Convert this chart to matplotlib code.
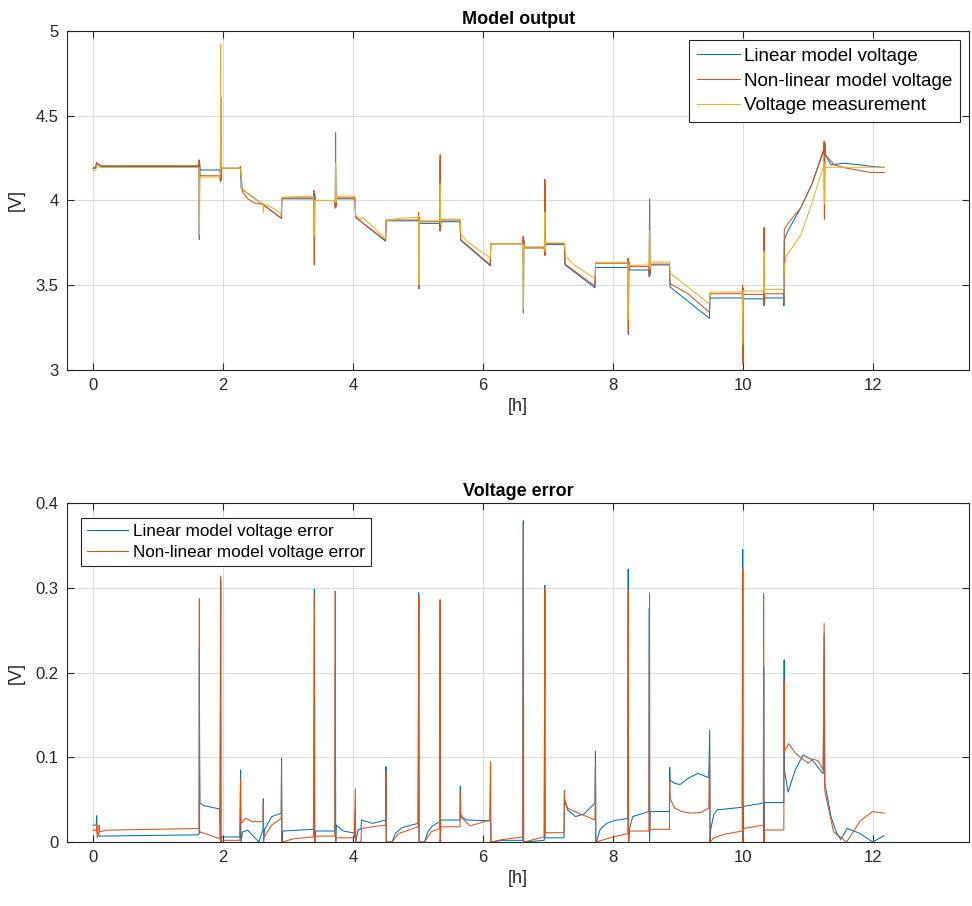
import matplotlib
matplotlib.use('Agg')
from matplotlib import pyplot as plt

plt.rcParams['font.family'] = ['Liberation Sans', 'DejaVu Sans']

# colours (matlab default order)
c_lin = '#0072BD'
c_nl = '#D95319'
c_meas = '#EDB120'

#####################################
# data, time in [h]

lin_t = [0.00, 0.04, 0.057, 0.10, 0.15, 1.62, 1.632, 1.636, 1.640, 1.646, 1.95, 1.960, 1.964, 1.968, 1.975,
         2.26, 2.268, 2.28, 2.90, 2.905, 3.39, 3.400, 3.405, 3.410, 3.418, 3.72, 3.727, 3.731, 3.736, 3.742,
         4.03, 4.04, 4.50, 4.508, 5.00, 5.010, 5.015, 5.020, 5.026, 5.33, 5.336, 5.340, 5.344, 5.350,
         5.645, 5.655, 6.11, 6.118, 6.61, 6.616, 6.620, 6.625, 6.632, 6.94, 6.946, 6.950, 6.955, 6.962,
         7.25, 7.26, 7.72, 7.73, 8.22, 8.228, 8.234, 8.240, 8.248, 8.55, 8.556, 8.560, 8.565, 8.572,
         8.865, 8.875, 9.48, 9.49, 9.985, 9.990, 9.995, 10.000, 10.008, 10.31, 10.316, 10.320, 10.325, 10.332,
         10.62, 10.626, 10.632, 10.70, 10.89, 11.06, 11.235, 11.245, 11.250, 11.255, 11.265,
         11.35, 11.55, 11.80, 12.00, 12.17]
lin_v = [4.19, 4.19, 4.22, 4.205, 4.20, 4.20, 4.20, 3.78, 4.22, 4.18, 4.18, 4.16, 4.60, 4.12, 4.19,
         4.19, 4.20, 4.07, 3.895, 4.01, 4.01, 4.00, 3.62, 4.04, 4.00, 4.00, 3.96, 4.20, 3.97, 4.01,
         4.01, 3.90, 3.76, 3.88, 3.88, 3.89, 3.48, 3.90, 3.865, 3.865, 3.83, 4.24, 3.82, 3.875,
         3.875, 3.765, 3.615, 3.745, 3.745, 3.76, 3.34, 3.77, 3.72, 3.72, 3.69, 4.10, 3.68, 3.74,
         3.74, 3.62, 3.485, 3.605, 3.605, 3.64, 3.21, 3.63, 3.59, 3.59, 3.55, 3.98, 3.56, 3.62,
         3.62, 3.49, 3.305, 3.425, 3.425, 3.47, 3.035, 3.48, 3.42, 3.42, 3.38, 3.80, 3.38, 3.425,
         3.425, 3.38, 3.77, 3.83, 3.96, 4.10, 4.29, 4.32, 3.90, 4.34, 4.27,
         4.21, 4.22, 4.21, 4.20, 4.195]

nl_t = [0.00, 0.04, 0.057, 0.10, 0.15, 1.62, 1.632, 1.636, 1.640, 1.646, 1.95, 1.960, 1.964, 1.968, 1.975,
        2.26, 2.268, 2.30, 2.38, 2.48, 2.61, 2.74, 2.895, 2.905, 3.39, 3.398, 3.405, 3.410, 3.72, 3.727, 3.731,
        3.736, 3.742, 4.03, 4.04, 4.50, 4.508, 5.00, 5.008, 5.015, 5.020, 5.026, 5.33, 5.336, 5.340, 5.344,
        5.350, 5.645, 5.655, 6.11, 6.118, 6.61, 6.616, 6.620, 6.625, 6.632, 6.94, 6.946, 6.950, 6.955, 6.962,
        7.25, 7.26, 7.72, 7.73, 8.22, 8.228, 8.234, 8.240, 8.248, 8.55, 8.556, 8.560, 8.565, 8.572,
        8.865, 8.875, 9.15, 9.48, 9.49, 9.985, 9.990, 9.995, 10.000, 10.008, 10.31, 10.316, 10.320, 10.325,
        10.332, 10.62, 10.626, 10.632, 10.70, 10.89, 11.06, 11.235, 11.245, 11.250, 11.255, 11.265,
        11.40, 11.60, 11.95, 12.17]
nl_v = [4.19, 4.20, 4.225, 4.21, 4.205, 4.205, 4.24, 3.77, 4.20, 4.146, 4.146, 4.11, 4.61, 4.12, 4.19,
        4.19, 4.20, 4.05, 4.01, 3.985, 3.977, 3.94, 3.895, 4.015, 4.015, 4.06, 3.62, 4.00, 4.00, 3.955, 4.40,
        3.96, 4.015, 4.015, 3.90, 3.765, 3.885, 3.885, 3.93, 3.48, 3.90, 3.875, 3.875, 3.82, 4.27, 3.83,
        3.885, 3.885, 3.77, 3.62, 3.745, 3.745, 3.79, 3.335, 3.76, 3.725, 3.725, 3.675, 4.125, 3.69, 3.745,
        3.745, 3.625, 3.495, 3.63, 3.63, 3.66, 3.22, 3.64, 3.61, 3.61, 3.55, 4.01, 3.57, 3.625,
        3.625, 3.51, 3.45, 3.34, 3.45, 3.45, 3.50, 3.04, 3.46, 3.446, 3.446, 3.38, 3.84, 3.40,
        3.45, 3.45, 3.40, 3.83, 3.87, 3.96, 4.10, 4.30, 4.35, 3.89, 4.33, 4.27,
        4.21, 4.19, 4.166, 4.165]

meas_t = [0.00, 0.04, 0.06, 0.12, 1.62, 1.634, 1.638, 1.642, 1.648, 1.95, 1.958, 1.964, 1.968,
          2.27, 2.29, 2.45, 2.60, 2.615, 2.620, 2.625, 2.75, 2.895, 2.905, 3.39, 3.400, 3.405, 3.410,
          3.72, 3.727, 3.731, 3.736, 3.742, 4.03, 4.04, 4.12, 4.15, 4.50, 4.508, 4.70, 5.00, 5.008, 5.015,
          5.020, 5.336, 5.340, 5.344, 5.350, 5.645, 5.66, 5.75, 6.11, 6.118, 6.61, 6.620, 6.625, 6.632,
          6.94, 6.950, 6.955, 6.962, 7.25, 7.27, 7.40, 7.72, 7.73, 8.22, 8.234, 8.240, 8.248, 8.55, 8.560,
          8.565, 8.572, 8.865, 8.88, 9.48, 9.49, 9.985, 9.995, 10.003, 10.008, 10.31, 10.320, 10.325,
          10.332, 10.62, 10.632, 10.66, 10.75, 10.89, 11.06, 11.235, 11.245, 11.250, 11.258, 12.17]
meas_v = [4.175, 4.18, 4.20, 4.195, 4.195, 4.19, 3.80, 4.10, 4.137, 4.14, 4.16, 4.92, 4.19,
          4.19, 4.07, 4.02, 3.98, 3.985, 3.93, 3.98, 3.96, 3.92, 4.02, 4.025, 4.00, 3.79, 4.00,
          4.00, 3.99, 4.22, 3.99, 4.025, 4.025, 3.91, 3.89, 3.90, 3.775, 3.88, 3.895, 3.90, 3.91, 3.50,
          3.88, 3.88, 4.10, 3.86, 3.89, 3.89, 3.80, 3.76, 3.66, 3.745, 3.745, 3.36, 3.74, 3.72,
          3.72, 3.93, 3.70, 3.75, 3.75, 3.67, 3.62, 3.54, 3.635, 3.635, 3.30, 3.62, 3.617, 3.62, 3.82,
          3.60, 3.637, 3.637, 3.57, 3.39, 3.46, 3.46, 3.15, 3.47, 3.466, 3.466, 3.70, 3.45,
          3.476, 3.476, 3.60, 3.67, 3.72, 3.80, 3.99, 4.20, 4.22, 3.98, 4.196, 4.196]

lin_err_t = [0.00, 0.05, 0.057, 0.065, 0.10, 1.62, 1.632, 1.636, 1.640, 1.646, 1.70, 1.95, 1.958, 1.964,
             1.968, 1.975, 2.26, 2.270, 2.275, 2.30, 2.38, 2.55, 2.615, 2.620, 2.625, 2.64, 2.75, 2.895,
             2.900, 2.905, 2.92, 3.39, 3.400, 3.405, 3.410, 3.42, 3.72, 3.728, 3.733, 3.74, 3.85, 4.02,
             4.035, 4.04, 4.08, 4.12, 4.13, 4.30, 4.50, 4.505, 4.51, 4.60, 4.65, 4.75, 5.00, 5.010, 5.015,
             5.10, 5.15, 5.22, 5.33, 5.336, 5.340, 5.35, 5.645, 5.650, 5.655, 5.70, 5.75, 6.11, 6.118,
             6.122, 6.30, 6.61, 6.618, 6.622, 6.94, 6.948, 6.952, 7.245, 7.250, 7.255, 7.30, 7.42, 7.55,
             7.72, 7.728, 7.733, 7.75, 7.80, 7.90, 8.00, 8.225, 8.232, 8.236, 8.25, 8.30, 8.55, 8.556,
             8.560, 8.57, 8.865, 8.870, 8.875, 8.95, 9.03, 9.15, 9.30, 9.47, 9.485, 9.490, 9.50, 9.55,
             9.60, 9.985, 9.992, 9.996, 10.005, 10.31, 10.316, 10.320, 10.325, 10.625, 10.630, 10.634,
             10.69, 10.80, 10.92, 11.06, 11.23, 11.245, 11.255, 11.35, 11.43, 11.50, 11.60, 11.80, 11.99,
             12.17]
lin_err = [0.020, 0.020, 0.031, 0.012, 0.007, 0.0085, 0.010, 0.230, 0.10, 0.046, 0.043, 0.039, 0.02,
           0.31, 0.0, 0.006, 0.006, 0.085, 0.0, 0.012, 0.014, 0.0, 0.015, 0.051, 0.0, 0.015, 0.030,
           0.034, 0.099, 0.0, 0.013, 0.015, 0.02, 0.298, 0.0, 0.013, 0.013, 0.209, 0.0, 0.020, 0.013,
           0.0106, 0.036, 0.0, 0.015, 0.015, 0.026, 0.022, 0.026, 0.089, 0.0, 0.0, 0.010, 0.017, 0.022,
           0.294, 0.0, 0.0, 0.012, 0.019, 0.024, 0.208, 0.0, 0.026, 0.026, 0.066, 0.032, 0.028, 0.026,
           0.025, 0.020, 0.0, 0.002, 0.002, 0.379, 0.0, 0.002, 0.303, 0.005, 0.005, 0.0555, 0.0476,
           0.038, 0.030, 0.033, 0.046, 0.107, 0.0, 0.002, 0.015, 0.022, 0.025, 0.028, 0.322, 0.0, 0.015,
           0.030, 0.036, 0.276, 0.0, 0.036, 0.036, 0.088, 0.073, 0.069, 0.068, 0.075, 0.081, 0.076,
           0.132, 0.0, 0.015, 0.033, 0.038, 0.041, 0.345, 0.0, 0.042, 0.046, 0.207, 0.0, 0.0466,
           0.0466, 0.215, 0.085, 0.059, 0.085, 0.1027, 0.097, 0.0805, 0.246, 0.07, 0.030, 0.012,
           0.003, 0.016, 0.010, 0.0, 0.0075]

nl_err_t = [0.00, 0.05, 0.057, 0.065, 0.09, 0.095, 0.10, 0.20, 1.62, 1.632, 1.636, 1.640, 1.646, 1.95,
            1.960, 1.964, 1.968, 1.975, 2.26, 2.270, 2.275, 2.35, 2.45, 2.615, 2.620, 2.625, 2.75, 2.895,
            2.900, 2.905, 3.10, 3.39, 3.400, 3.405, 3.410, 3.42, 3.72, 3.726, 3.730, 3.74, 4.02, 4.035,
            4.04, 4.12, 4.13, 4.30, 4.50, 4.505, 4.51, 4.60, 4.70, 5.00, 5.008, 5.012, 5.016, 5.10, 5.20,
            5.33, 5.338, 5.342, 5.35, 5.645, 5.650, 5.655, 5.80, 6.10, 6.115, 6.120, 6.30, 6.61, 6.616,
            6.620, 6.624, 6.94, 6.946, 6.950, 6.954, 7.245, 7.250, 7.255, 7.30, 7.50, 7.72, 7.728, 7.733,
            8.00, 8.225, 8.230, 8.234, 8.238, 8.25, 8.55, 8.556, 8.560, 8.564, 8.865, 8.870, 8.875, 8.95,
            9.05, 9.20, 9.35, 9.47, 9.485, 9.490, 9.55, 9.70, 9.985, 9.990, 9.994, 9.998, 10.005, 10.31,
            10.314, 10.320, 10.325, 10.625, 10.630, 10.634, 10.70, 10.80, 10.93, 11.00, 11.07, 11.15,
            11.23, 11.245, 11.255, 11.39, 11.59, 11.80, 11.99, 12.17]
nl_err = [0.014, 0.014, 0.021, 0.005, 0.010, 0.020, 0.012, 0.014, 0.016, 0.016, 0.287, 0.010, 0.012, 0.004,
          0.227, 0.314, 0.0, 0.002, 0.002, 0.075, 0.022, 0.028, 0.024, 0.024, 0.047, 0.005, 0.020, 0.028,
          0.093, 0.0, 0.004, 0.006, 0.18, 0.293, 0.0, 0.007, 0.007, 0.296, 0.0, 0.005, 0.005, 0.063,
          0.0, 0.0, 0.016, 0.018, 0.020, 0.082, 0.0, 0.0, 0.010, 0.018, 0.215, 0.289, 0.0, 0.0, 0.012,
          0.016, 0.286, 0.0, 0.018, 0.018, 0.059, 0.030, 0.019, 0.026, 0.095, 0.0, 0.003, 0.006, 0.30,
          0.374, 0.0, 0.006, 0.188, 0.299, 0.011, 0.011, 0.061, 0.050, 0.040, 0.033, 0.026, 0.089, 0.0,
          0.006, 0.010, 0.19, 0.297, 0.0, 0.013, 0.013, 0.20, 0.294, 0.015, 0.015, 0.072, 0.051, 0.040,
          0.036, 0.034, 0.035, 0.040, 0.103, 0.0, 0.005, 0.009, 0.013, 0.162, 0.322, 0.0, 0.016, 0.020,
          0.293, 0.0, 0.0142, 0.0142, 0.19, 0.107, 0.116, 0.105, 0.097, 0.093, 0.098, 0.096,
          0.085, 0.258, 0.06, 0.012, 0.0, 0.025, 0.036, 0.034]

#####################################
# plotting

def style_axes(ax):
    ax.grid(True, color='#dcdcdc', linewidth=0.8)
    ax.set_axisbelow(True)
    ax.tick_params(direction='in', top=True, right=True, length=5, width=0.8,
                   labelsize=12, colors='#262626', pad=6)
    for s in ax.spines.values():
        s.set_color('#262626')
        s.set_linewidth(0.8)

fig = plt.figure(figsize=(9.72, 9.06), dpi=100)
ax1 = fig.add_axes([0.0689, 0.5916, 0.9285, 0.3742])
ax2 = fig.add_axes([0.0689, 0.0706, 0.9285, 0.3742])

lw = 0.75
ax1.plot(lin_t, lin_v, color=c_lin, lw=lw, label='Linear model voltage')
ax1.plot(nl_t, nl_v, color=c_nl, lw=lw, label='Non-linear model voltage')
ax1.plot(meas_t, meas_v, color=c_meas, lw=lw, label='Voltage measurement')
ax1.set_xlim(-0.4, 13.48)
ax1.set_ylim(3, 5)
ax1.set_xticks(range(0, 13, 2))
ax1.set_yticks([3, 3.5, 4, 4.5, 5])
ax1.set_yticklabels(['3', '3.5', '4', '4.5', '5'])
ax1.set_title('Model output', fontsize=13, fontweight='bold', pad=5)
ax1.set_xlabel('[h]', fontsize=13, color='#262626', labelpad=3)
ax1.set_ylabel('[V]', fontsize=13, color='#262626', labelpad=8)
style_axes(ax1)
leg1 = ax1.legend(loc='upper right', fontsize=13.5, handlelength=2.3, handletextpad=0.25,
                  borderpad=0.4, labelspacing=0.4, fancybox=False, framealpha=1,
                  edgecolor='#262626', borderaxespad=0.5)
leg1.get_frame().set_linewidth(0.8)

ax2.plot(lin_err_t, lin_err, color=c_lin, lw=lw, label='Linear model voltage error')
ax2.plot(nl_err_t, nl_err, color=c_nl, lw=lw, label='Non-linear model voltage error')
ax2.set_xlim(-0.4, 13.48)
ax2.set_ylim(0, 0.4)
ax2.set_xticks(range(0, 13, 2))
ax2.set_yticks([0, 0.1, 0.2, 0.3, 0.4])
ax2.set_yticklabels(['0', '0.1', '0.2', '0.3', '0.4'])
ax2.set_title('Voltage error', fontsize=13, fontweight='bold', pad=5)
ax2.set_xlabel('[h]', fontsize=13, color='#262626', labelpad=3)
ax2.set_ylabel('[V]', fontsize=13, color='#262626', labelpad=8)
style_axes(ax2)
leg2 = ax2.legend(loc='upper left', fontsize=12.3, handlelength=2.4, handletextpad=0.25,
                  borderpad=0.35, labelspacing=0.4, fancybox=False, framealpha=1,
                  edgecolor='#262626', borderaxespad=0.85)
leg2.get_frame().set_linewidth(0.8)

fig.savefig('out.png', dpi=100)
